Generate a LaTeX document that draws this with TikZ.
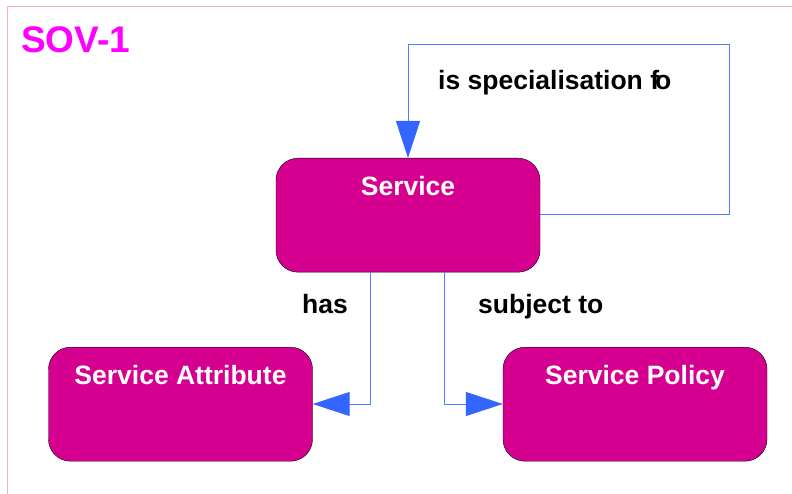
\documentclass[tikz,border=0pt]{standalone}
\usepackage{fontspec}
\setmainfont{Liberation Sans}
\usepackage{tikz}
\usetikzlibrary{arrows.meta}

\definecolor{sovmagenta}{RGB}{213,0,143}
\definecolor{sovtitle}{RGB}{255,0,255}
\definecolor{sovblue}{RGB}{51,102,255}
\definecolor{sovpink}{RGB}{255,170,205}

\begin{document}
\begin{tikzpicture}[x=1pt,y=-1pt,%
  entity/.style={draw=black,fill=sovmagenta,rounded corners=22pt,
    minimum width=264pt,inner sep=0pt,text height=37pt,text depth=77pt,
    text=white,font=\bfseries\fontsize{26.5}{30}\selectfont},
  rel/.style={sovblue!85,line width=1pt,
    -{Triangle[width=24pt,length=37pt,sovblue]}},
  relname/.style={anchor=base west,inner sep=0pt,
    font=\bfseries\fontsize{26.5}{30}\selectfont}]

\useasboundingbox (0,0) rectangle (792,494);
\draw[sovpink,line width=1pt] (792,7) -- (7,7) -- (7,494);

\node[anchor=base west,inner sep=0pt,text=sovtitle,
  font=\bfseries\fontsize{37}{40}\selectfont] (title) at (21,53) {SOV-1};

\node[entity,anchor=north] (service) at (408,158) {Service};
\node[entity,anchor=north] (attribute) at (180.5,347) {Service Attribute};
\node[entity,anchor=north] (policy) at (635,347) {Service Policy};

\coordinate (loopa) at (729,215);
\coordinate (loopb) at (729,45);
\coordinate (loopc) at (408,45);
\coordinate (hasturn) at (370,404);
\coordinate (subjturn) at (444,404);

\draw[rel] (service.east |- loopa) -- (loopa) -- (loopb) -- (loopc) -- (service.north);
\draw[rel] (service.south -| hasturn) -- (hasturn) -- (attribute.east |- hasturn);
\draw[rel] (service.south -| subjturn) -- (subjturn) -- (policy.west |- subjturn);

\node[relname] (isspec) at (438,90) {is specialisation f\kern-4pt o};
\node[relname] (has) at (302,313) {has};
\node[relname] (subjectto) at (478,313) {subject to};
\end{tikzpicture}
\end{document}
